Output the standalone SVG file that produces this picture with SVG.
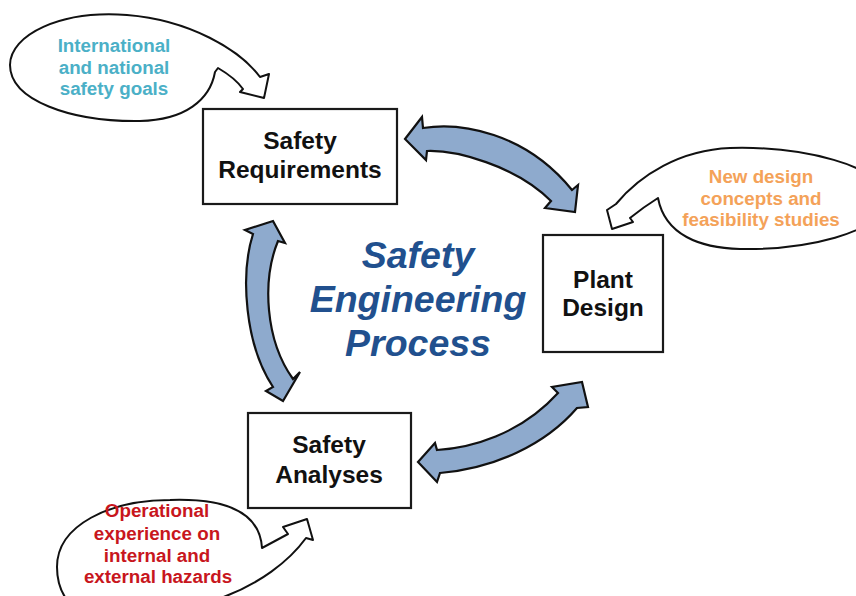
<svg xmlns="http://www.w3.org/2000/svg" width="856" height="596" viewBox="0 0 856 596">
<style>
.box{fill:#fff;stroke:#1a1a1a;stroke-width:2.2}
.bt{font-family:"Liberation Sans",Arial,sans-serif;font-weight:bold;font-size:24.5px;fill:#111;text-anchor:middle}
.call{fill:#fff;stroke:#111;stroke-width:2;stroke-linejoin:round}
.ct{font-family:"Liberation Sans",Arial,sans-serif;font-weight:bold;font-size:18.8px;text-anchor:middle}
.arr{fill:#8eaacd;stroke:#111;stroke-width:2.2;stroke-linejoin:miter}
.title{font-family:"Liberation Sans",Arial,sans-serif;font-weight:bold;font-style:italic;font-size:37.5px;fill:#21508e;text-anchor:middle}
</style>
<rect width="856" height="596" fill="#fff"/>

<g id="callout-goals">
<path class="call" d="M215,72 L218,68 C230,75 238,82 243,89 L240,92 L264,98 L269,74 L260,77 C240,50 190,20 127,15 C60,10 10,35 10,65 C10,100 70,122 140,121 C185,120 210,100 215,72 Z"/>
<text class="ct" fill="#4bb0c7" x="114" y="52">International</text>
<text class="ct" fill="#4bb0c7" x="114" y="74">and national</text>
<text class="ct" fill="#4bb0c7" x="114" y="95">safety goals</text>
</g>

<g id="callout-design">
<path class="call" d="M658,198 C650,203 640,210 630,218 L633,222 L612,229 L607,210 L616,204 C640,175 680,150 730,148 C800,146 885,165 885,198 C885,235 800,250 740,249 C700,248 665,235 658,198 Z"/>
<text class="ct" fill="#f4a259" x="761" y="183">New design</text>
<text class="ct" fill="#f4a259" x="761" y="205">concepts and</text>
<text class="ct" fill="#f4a259" x="761" y="226">feasibility studies</text>
</g>

<g id="callout-experience">
<path class="call" d="M262,548 L288,534 L283,527 L307,519 L313,540 L306,538 C290,560 260,585 215,600 C180,612 150,625 120,625 C80,622 57,600 57,567 C57,525 110,500 170,500 C230,498 260,515 262,548 Z"/>
<text class="ct" fill="#c8161d" x="157" y="517">Operational</text>
<text class="ct" fill="#c8161d" x="157" y="540">experience on</text>
<text class="ct" fill="#c8161d" x="157" y="562">internal and</text>
<text class="ct" fill="#c8161d" x="158" y="583">external hazards</text>
</g>

<g id="connectors">
<path class="arr" d="M405,139 L422,117 L423,128 C460,122 525,132 572,190 L578,185 L575,212 L545,208 L551,201 C515,165 455,150 427,151 L426,160 Z"/>
<path class="arr" d="M273,221 L285,243 L278,241 C262,280 265,340 293,379 L300,372 L283,401 L266,391 L273,387 C245,345 240,275 253,234 L245,230 Z"/>
<path class="arr" d="M418,462 L435,443 L437,450 C470,448 520,435 558,393 L552,387 L582,382 L588,407 L577,408 C545,445 495,468 440,473 L437,482 Z"/>
</g>

<g id="safety-requirements">
<rect class="box" x="203" y="109" width="194" height="95"/>
<text class="bt" x="300" y="149">Safety</text>
<text class="bt" x="300" y="178">Requirements</text>
</g>

<g id="plant-design">
<rect class="box" x="543" y="235" width="120" height="117"/>
<text class="bt" x="603" y="288">Plant</text>
<text class="bt" x="603" y="316">Design</text>
</g>

<g id="safety-analyses">
<rect class="box" x="248" y="413" width="163" height="95"/>
<text class="bt" x="329" y="453">Safety</text>
<text class="bt" x="329" y="483">Analyses</text>
</g>

<g id="title">
<text class="title" x="418" y="268">Safety</text>
<text class="title" x="418" y="312">Engineering</text>
<text class="title" x="418" y="356">Process</text>
</g>
</svg>
